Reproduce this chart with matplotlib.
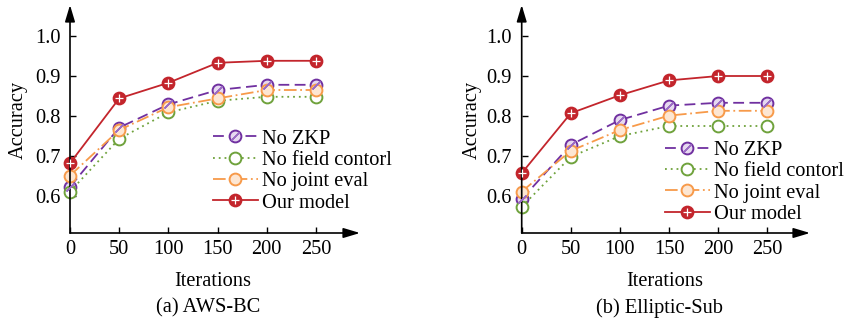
import matplotlib
matplotlib.use("Agg")
import matplotlib.pyplot as plt
from matplotlib.legend_handler import HandlerTuple

plt.rcParams['font.family'] = ['Liberation Serif', 'DejaVu Serif']
plt.rcParams['mathtext.fontset'] = 'stix'

iterations = [0, 50, 100, 150, 200, 250]
series_names = ["No ZKP", "No field contorl", "No joint eval", "Our model"]

# (a) AWS-BC
aws_no_zkp = [0.623, 0.771, 0.829, 0.865, 0.878, 0.878]
aws_no_field = [0.611, 0.743, 0.809, 0.838, 0.848, 0.848]
aws_no_joint = [0.651, 0.765, 0.822, 0.844, 0.865, 0.865]
aws_ours = [0.682, 0.844, 0.883, 0.933, 0.938, 0.938]

# (b) Elliptic-Sub
ell_no_zkp = [0.592, 0.728, 0.790, 0.826, 0.833, 0.833]
ell_no_field = [0.573, 0.698, 0.750, 0.775, 0.775, 0.775]
ell_no_joint = [0.611, 0.713, 0.765, 0.801, 0.813, 0.813]
ell_ours = [0.657, 0.807, 0.852, 0.889, 0.900, 0.900]

yticks = [0.6, 0.7, 0.8, 0.9, 1.0]
ytick_labels = ["0.6", "0.7", "0.8", "0.9", "1.0"]
captions = ["(a) AWS-BC", "(b) Elliptic-Sub"]

W, H = 845, 324
fig = plt.figure(figsize=(W / 100, H / 100), dpi=100)

FS = 14.7
purple = "#7030A0"
green = "#6FA23C"
orange = "#F79A4A"
red = "#C3252C"

styles = [
    dict(color=purple, ls=(0, (6, 3)), mfc="#E6D8F0", overlay=dict(marker=(2, 2, -45), color="#9B6CC4", ms=8, mew=1.0)),
    dict(color=green, ls=(0, (1, 2.2)), mfc="white", overlay=None),
    dict(color=orange, ls=(0, (7, 2, 1, 2)), mfc="#FDE6D2", overlay=None),
    dict(color=red, ls="-", mfc=red, overlay=dict(marker="+", color="white", ms=6, mew=0.9)),
]

panels = [
    dict(x0=70, x_end=360, xmax_px=316, data=[aws_no_zkp, aws_no_field, aws_no_joint, aws_ours],
         leg=(0.493, 0.455), ylab_x=18, xlab_x=213, cap_x=208),
    dict(x0=521.7, x_end=810, xmax_px=767.3, data=[ell_no_zkp, ell_no_field, ell_no_joint, ell_ours],
         leg=(0.497, 0.405), ylab_x=472, xlab_x=665, cap_x=660),
]

y_axis_px = 233
y_top_px = 5
px_per_unit_y = 400.0  # pixels per 1.0 accuracy
y_bottom_val = 0.6 - (y_axis_px - 196) / px_per_unit_y
y_top_val = 1.0 + (196 - y_top_px - 160) / px_per_unit_y

for k, p in enumerate(panels):
    left = p["x0"] / W
    width = (p["x_end"] - p["x0"]) / W
    bottom = (H - y_axis_px) / H
    height = (y_axis_px - y_top_px) / H
    ax = fig.add_axes([left, bottom, width, height])
    ax.patch.set_alpha(0)
    scale = (p["xmax_px"] - p["x0"]) / 250.0
    ax.set_xlim(0, (p["x_end"] - p["x0"]) / scale)
    ax.set_ylim(y_bottom_val, y_top_val)
    for s in ax.spines.values():
        s.set_visible(False)

    handles = []
    for name, vals, st in zip(series_names, p["data"], styles):
        ln, = ax.plot(iterations, vals, color=st["color"], ls=st["ls"], lw=1.3,
                      marker="o", ms=8.5, mfc=st["mfc"], mec=st["color"], mew=1.4,
                      clip_on=False, zorder=3)
        h = ln
        if st["overlay"] is not None:
            o = st["overlay"]
            ov, = ax.plot(iterations, vals, ls="none", marker=o["marker"], ms=o["ms"],
                          mew=o["mew"], color=o["color"], clip_on=False, zorder=4)
            h = (ln, ov)
        handles.append(h)

    # arrows axes
    ax.annotate("", xy=(1, 0), xytext=(0, 0), xycoords="axes fraction",
                arrowprops=dict(arrowstyle="-|>,head_length=1.0,head_width=0.3", color="black", lw=1.2,
                                shrinkA=0, shrinkB=0))
    ax.annotate("", xy=(0, 1), xytext=(0, 0), xycoords="axes fraction",
                arrowprops=dict(arrowstyle="-|>,head_length=1.0,head_width=0.3", color="black", lw=1.2,
                                shrinkA=0, shrinkB=0))

    ax.set_xticks(iterations)
    ax.set_xticklabels([str(v) for v in iterations])
    ax.set_yticks(yticks)
    ax.set_yticklabels(ytick_labels)
    ax.tick_params(axis="both", direction="in", length=4.5, width=1.0, labelsize=FS)
    ax.tick_params(axis="x", pad=5)
    ax.tick_params(axis="y", pad=7)

    ax.legend(handles, series_names, loc="upper left", bbox_to_anchor=p["leg"],
              frameon=False, fontsize=FS, handlelength=2.2, handletextpad=0.2,
              labelspacing=0.1, borderpad=0, borderaxespad=0, numpoints=1,
              handler_map={tuple: HandlerTuple(ndivide=1)})

    fig.text(p["ylab_x"] / W, 1 - 120 / H, "Accuracy", rotation=90, ha="center", va="center", fontsize=FS)
    fig.text(p["xlab_x"] / W, 1 - 282 / H, "Iterations", ha="center", va="center", fontsize=FS)
    fig.text(p["cap_x"] / W, 1 - 308 / H, captions[k], ha="center", va="center", fontsize=FS)

fig.savefig("out.png", dpi=100)
